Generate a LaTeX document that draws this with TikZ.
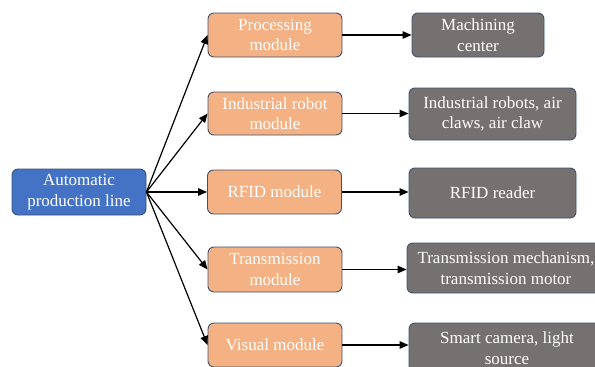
\documentclass[tikz,border=0pt]{standalone}
\usepackage{fontspec}
\setmainfont{Liberation Serif}
\newfontfamily\labelface{Liberation Serif}
\usetikzlibrary{arrows.meta}
\definecolor{rootblue}{HTML}{4472C4}
\definecolor{modorange}{HTML}{F4B183}
\definecolor{devgray}{HTML}{767171}
\definecolor{edge}{HTML}{3E5170}
\newcommand{\boxfont}{\labelface\fontsize{17}{20.5}\selectfont}
\begin{document}
\begin{tikzpicture}[x=1pt,y=-1pt,
  box/.style={draw=edge, line width=0.9pt, rounded corners=6pt, text=white,
    align=center, inner sep=0pt, font=\boxfont},
  rootbox/.style={box, fill=rootblue},
  modbox/.style={box, fill=modorange},
  devbox/.style={box, fill=devgray},
  link/.style={line width=1.2pt, -{Triangle[length=9pt,width=7.5pt]}}]
\useasboundingbox (0,0) rectangle (595,367);
\begin{scope}
\clip (0,0) rectangle (595,367);
% root
\node[rootbox, minimum width=134pt, minimum height=46pt] (A) at (79,192) {Automatic\\production line};
% modules
\node[modbox, minimum width=134pt, minimum height=44pt] (P) at (275,35) {Processing\\module};
\node[modbox, minimum width=134pt, minimum height=43pt] (R) at (275,113.5) {Industrial robot\\module};
\node[modbox, minimum width=134pt, minimum height=44pt] (F) at (274.5,192) {RFID module};
\node[modbox, minimum width=134pt, minimum height=45pt] (T) at (275,269.5) {Transmission\\module};
\node[modbox, minimum width=134pt, minimum height=44pt] (V) at (275,345) {Visual module};
% devices
\node[devbox, minimum width=132pt, minimum height=44pt] (M) at (478,35) {Machining\\center};
\node[devbox, minimum width=167pt, minimum height=52pt] (IR) at (492.5,114) {Industrial robots, air\\claws, air claw};
\node[devbox, minimum width=167pt, minimum height=50pt] (RR) at (492.5,193) {RFID reader};
\node[devbox, minimum width=198pt, minimum height=50pt] (TM) at (506,268) {Transmission mechanism,\\transmission motor};
\node[devbox, minimum width=196pt, minimum height=50pt] (SC) at (507,348) {Smart camera, light\\source};
% fan-out from the production line
\foreach \m in {P,R,F,T,V}
  \draw[link] (A.east) -- (\m.west);
% module to device
\draw[link] (P.east) -- (P.east -| M.west);
\draw[link] (R.east) -- (R.east -| IR.west);
\draw[link] (F.east) -- (F.east -| RR.west);
\draw[link] (T.east) -- (T.east -| TM.west);
\draw[link] (V.east) -- (V.east -| SC.west);
\end{scope}
\end{tikzpicture}
\end{document}
